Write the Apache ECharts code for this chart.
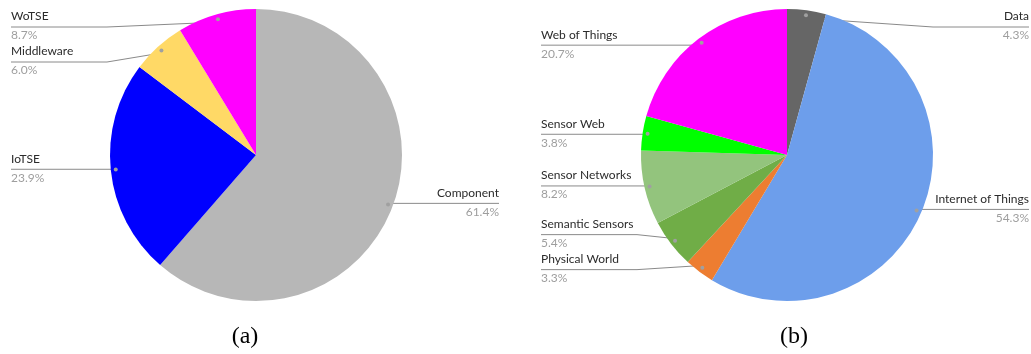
<!DOCTYPE html>
<html><head><meta charset="utf-8">
<script src="https://cdn.jsdelivr.net/npm/echarts@6/dist/echarts.min.js"></script>
<style>html,body{margin:0;padding:0;background:#fff}#c{width:1031px;height:354px}</style>
</head><body><div id="c"></div>
<script>
// ---- data ----
const catsA = ['Component', 'IoTSE', 'Middleware', 'WoTSE'];
const valsA = [61.4, 23.9, 6.0, 8.7];
const colorsA = ['#b7b7b7', '#0000ff', '#ffd966', '#ff00ff'];

const catsB = ['Data', 'Internet of Things', 'Physical World', 'Semantic Sensors', 'Sensor Networks', 'Sensor Web', 'Web of Things'];
const valsB = [4.3, 54.3, 3.3, 5.4, 8.2, 3.8, 20.7];
const colorsB = ['#666666', '#6d9eeb', '#ed7d31', '#70ad47', '#93c47d', '#00ff00', '#ff00ff'];

const captions = ['(a)', '(b)'];

// ---- layout config ----
const R = 146, RD = 138, TOP = 27, GAP = 35, BEND = 96;
const FONT = 'Lato';
const pies = [
  { cats: catsA, vals: valsA, colors: colorsA, cx: 256, cy: 155, left: 11, right: 499, capX: 245 },
  { cats: catsB, vals: valsB, colors: colorsB, cx: 787, cy: 155, left: 541, right: 1029, capX: 794 }
];

// precompute label line heights (avoid overlaps like the reference)
pies.forEach(p => {
  const total = p.vals.reduce((a, b) => a + b, 0);
  let cum = 0;
  p.lab = p.vals.map((v, i) => {
    const th = 2 * Math.PI * (cum + v / 2) / total;
    cum += v;
    const dx = Math.sin(th), dy = -Math.cos(th);
    return { i, side: dx < 0 ? 'left' : 'right', dy: p.cy + RD * dy, y: 0 };
  });
  ['left', 'right'].forEach(side => {
    const items = p.lab.filter(o => o.side === side).sort((a, b) => a.dy - b.dy);
    items.forEach(o => o.y = Math.max(o.dy, TOP));
    for (let it = 0; it < 60; it++) {
      let moved = false;
      for (let k = 1; k < items.length; k++) {
        const d = GAP - (items[k].y - items[k - 1].y);
        if (d > 0.01) {
          const lim = k - 1 > 0 ? items[k - 2].y + GAP : TOP;
          const up = Math.min(d / 2, Math.max(0, items[k - 1].y - lim));
          items[k - 1].y -= up;
          items[k].y += d - up;
          moved = true;
        }
      }
      if (!moved) break;
    }
  });
});

const series = [];
pies.forEach((p, pi) => {
  const data = p.cats.map((c, i) => ({ name: c, value: p.vals[i] }));
  // slices
  series.push({
    type: 'pie', center: [p.cx, p.cy], radius: R, startAngle: 90, clockwise: true,
    data: data, color: p.colors, silent: true, label: { show: false }, labelLine: { show: false },
    itemStyle: { borderWidth: 0 }, emphasis: { disabled: true }, animation: false
  });
  // labels + leader lines
  series.push({
    type: 'pie', center: [p.cx, p.cy], radius: RD, startAngle: 90, clockwise: true,
    data: data, silent: true, animation: false, emphasis: { disabled: true },
    itemStyle: { color: 'rgba(0,0,0,0)' },
    label: {
      show: true, position: 'outside', width: 160, overflow: 'none',
      formatter: q => '{n|' + q.name + '}\n{p|' + q.value.toFixed(1) + '%}',
      rich: {
        n: { fontFamily: FONT, fontSize: 12, color: '#2b2b2b', lineHeight: 19 },
        p: { fontFamily: FONT, fontSize: 12, color: '#9e9e9e', lineHeight: 19 }
      }
    },
    labelLine: { show: true, length: 5, length2: 5, smooth: false, lineStyle: { color: '#8a8a8a', width: 1 } },
    labelLayout: function (params) {
      const o = pies[pi].lab[params.dataIndex];
      const start = params.labelLinePoints[0];
      const isLeft = o.side === 'left';
      const edge = isLeft ? p.left : p.right;
      const y = o.y;
      const bendX = Math.abs(y - start[1]) > 0.5 ? (isLeft ? edge + BEND : edge - BEND) : start[0];
      return {
        x: edge, y: y - 1, align: isLeft ? 'left' : 'right', verticalAlign: 'middle',
        labelLinePoints: [[start[0], start[1]], [bendX, y], [edge, y]]
      };
    }
  });
  // dots at leader-line starts
  series.push({
    type: 'pie', center: [p.cx, p.cy], radius: [RD - 3, RD + 3], startAngle: 90, clockwise: true,
    data: data, silent: true, animation: false, emphasis: { disabled: true },
    itemStyle: { color: 'rgba(0,0,0,0)' },
    label: { show: true, position: 'inside', formatter: '{d|}', rich: { d: { width: 4, height: 4, borderRadius: 2, backgroundColor: '#a0a0a0' } } },
    labelLine: { show: false }
  });
});

const chart = echarts.init(document.getElementById('c'), null, { renderer: 'canvas' });
chart.setOption({
  backgroundColor: '#ffffff',
  animation: false,
  series: series,
  graphic: pies.map((p, i) => ({
    type: 'text', x: p.capX, y: 337,
    style: { text: captions[i], align: 'center', verticalAlign: 'middle', font: '24px "Liberation Serif"', fill: '#000' }
  }))
});
</script>
</body></html>
